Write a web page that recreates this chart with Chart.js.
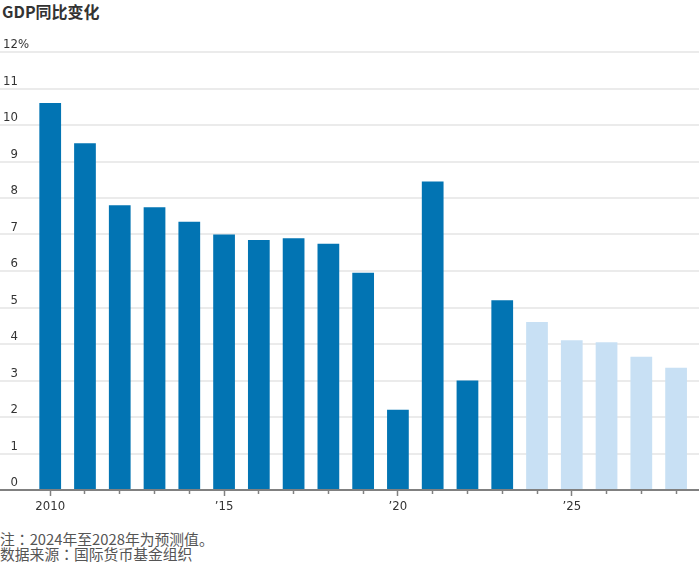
<!DOCTYPE html>
<html>
<head>
<meta charset="utf-8">
<script src="https://cdn.jsdelivr.net/npm/chart.js@4.4.1/dist/chart.umd.min.js"></script>
<style>
  html, body { margin: 0; padding: 0; background: #fff; }
  #wrap { position: relative; width: 699px; height: 564px; overflow: hidden; }
  #title {
    position: absolute; left: 2px; top: 0px;
    font-family: 'Liberation Sans Narrow', 'Noto Sans CJK SC', sans-serif;
    font-size: 16px; font-weight: 700; color: #333; line-height: 22px; white-space: nowrap;
  }
  #chart { position: absolute; left: 0; top: 30px; }
  .note {
    position: absolute; left: 0;
    font-family: 'Noto Sans CJK SC', sans-serif;
    font-size: 14.8px; color: #555; line-height: 15px; white-space: nowrap;
  }
  .colon { font-family: 'Noto Sans CJK TC', 'Noto Sans CJK SC', sans-serif; }
</style>
</head>
<body>
<div id="wrap">
  <div id="title">GDP同比变化</div>
  <canvas id="chart" width="699" height="490"></canvas>
  <div class="note" style="top:531px">注<span class="colon">：</span>2024年至2028年为预测值。</div>
  <div class="note" style="top:546px">数据来源<span class="colon">：</span>国际货币基金组织</div>
</div>
<script>
// ---- data ----
const years = [2010, 2011, 2012, 2013, 2014, 2015, 2016, 2017, 2018, 2019,
               2020, 2021, 2022, 2023, 2024, 2025, 2026, 2027, 2028];
const gdpGrowth = [10.6, 9.5, 7.8, 7.75, 7.35, 7.0, 6.85, 6.9, 6.75, 5.95,
                   2.2, 8.45, 3.0, 5.2, 4.6, 4.1, 4.05, 3.65, 3.35];
const forecastStartYear = 2024;
const yTickValues = [0, 1, 2, 3, 4, 5, 6, 7, 8, 9, 10, 11, 12];
const xMajorYears = [2010, 2015, 2020, 2025];
const xMajorLabels = ['2010', '\u201915', '\u201920', '\u201925'];

// ---- styles ----
const ACTUAL = '#0274b3';
const FORECAST = '#c8e0f4';
const FONT = "'Liberation Sans Narrow', 'DejaVu Sans Condensed', 'Roboto', sans-serif";

const points = years.map((yr, i) => ({ x: yr, y: gdpGrowth[i] }));

new Chart(document.getElementById('chart'), {
  type: 'bar',
  data: {
    datasets: [{
      data: points,
      backgroundColor: ctx => (ctx.raw && ctx.raw.x >= forecastStartYear) ? FORECAST : ACTUAL,
      borderWidth: 0,
      barPercentage: 0.625,
      categoryPercentage: 1.0
    }]
  },
  options: {
    responsive: false,
    animation: false,
    events: [],
    layout: { padding: { top: 22, left: 0, right: 0, bottom: 0 } },
    plugins: { legend: { display: false }, tooltip: { enabled: false }, title: { display: false } },
    scales: {
      x: {
        type: 'linear',
        offset: false,
        min: 2008.556,
        max: 2028.659,
        afterBuildTicks: s => { s.ticks = years.map(v => ({ value: v })); },
        afterFit: s => { s.height = 30; },
        grid: {
          display: true,
          offset: false,
          drawOnChartArea: false,
          drawTicks: true,
          tickLength: 6,
          tickWidth: 1.5,
          tickColor: '#808080',
          tickBorderDash: ctx => (ctx.tick && xMajorYears.includes(ctx.tick.value)) ? [] : [3, 30]
        },
        border: { display: true, color: '#808080', width: 2 },
        ticks: {
          autoSkip: false,
          maxRotation: 0,
          padding: 3,
          color: '#333',
          font: { family: FONT, size: 13 },
          callback: v => {
            const k = xMajorYears.indexOf(v);
            return k >= 0 ? xMajorLabels[k] : '';
          }
        }
      },
      y: {
        type: 'linear',
        min: 0,
        max: 12,
        afterBuildTicks: s => { s.ticks = yTickValues.map(v => ({ value: v })); },
        afterFit: s => { s.width = 0; },
        grid: {
          color: '#ebebeb',
          lineWidth: 2,
          drawTicks: false
        },
        border: { display: false },
        ticks: {
          mirror: true,
          padding: 3,
          labelOffset: -7,
          color: '#333',
          font: { family: FONT, size: 13 },
          callback: v => v === 12 ? '12%' : (v < 10 ? '\u2007' + v : String(v))
        }
      }
    }
  }
});
</script>
</body>
</html>
